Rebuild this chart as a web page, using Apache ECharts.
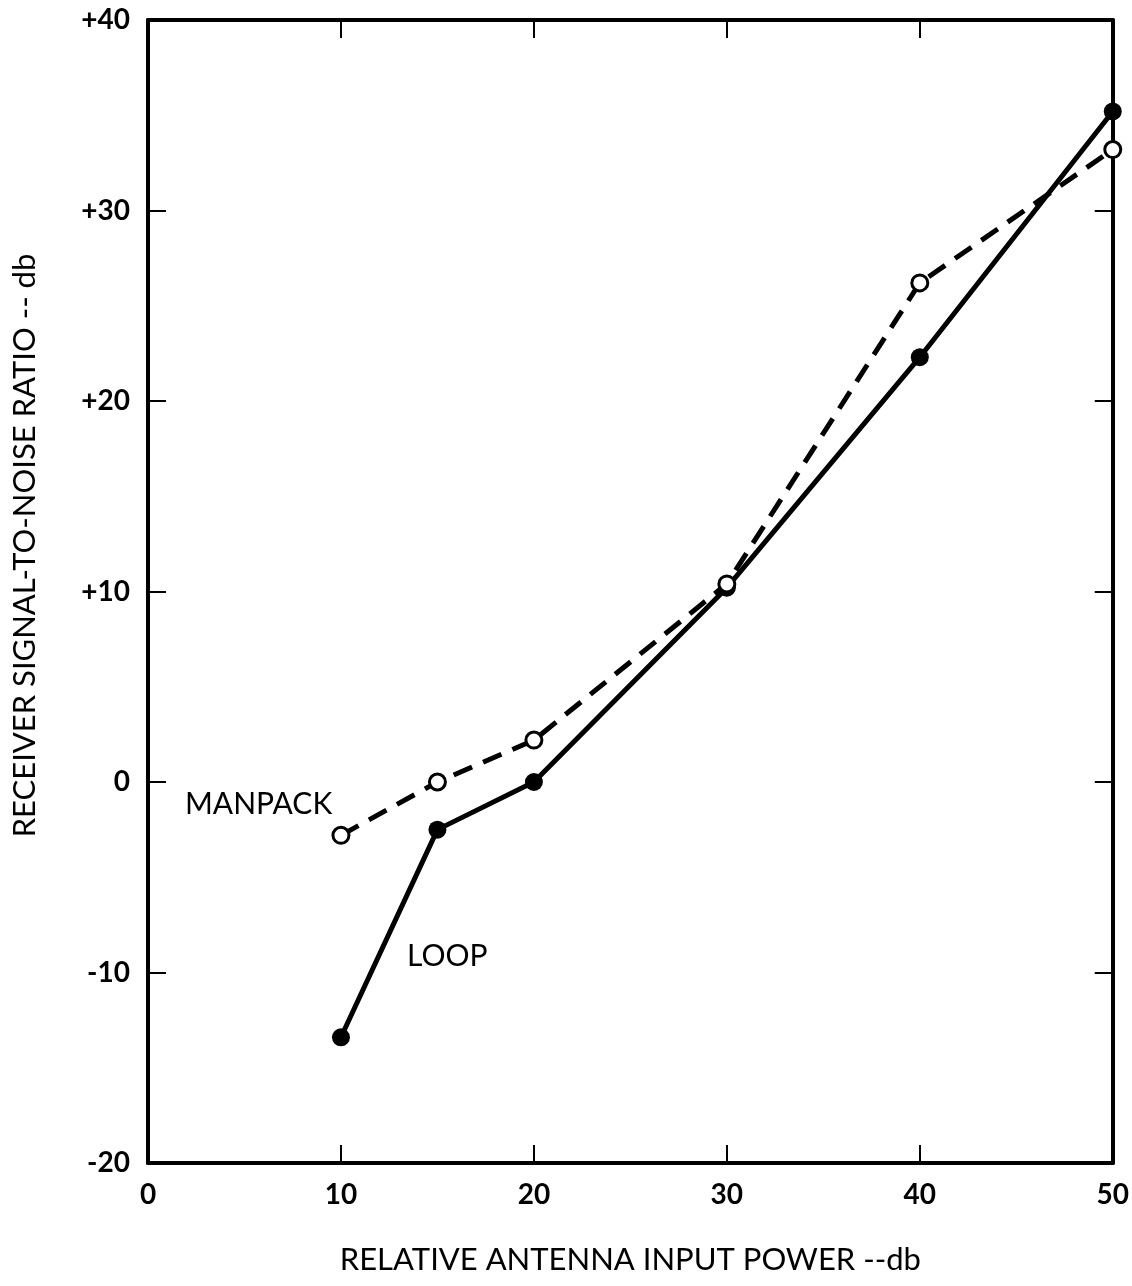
<!DOCTYPE html>
<html>
<head>
<meta charset="utf-8">
<script src="https://cdn.jsdelivr.net/npm/echarts@6/dist/echarts.min.js"></script>
<style>
  html, body { margin: 0; padding: 0; background: #fff; }
  #main { width: 1132px; height: 1286px; }
</style>
</head>
<body>
<div id="main"></div>
<script>
// relative antenna input power (db)
var inputPower = [10, 15, 20, 30, 40, 50];
// signal-to-noise ratio (db)
var loopSnr = [-13.4, -2.5, 0, 10.2, 22.3, 35.2];
var manpackSnr = [-2.8, 0, 2.2, 10.4, 26.2, 33.2];

var font = 'Lato, "DejaVu Sans", sans-serif';

function pairs(xs, ys) {
  return xs.map(function (x, i) { return [x, ys[i]]; });
}

var myChart = echarts.init(document.getElementById('main'));

var baseAxisLine = { show: true, onZero: false, lineStyle: { color: '#000', width: 4 } };
var baseTick = { show: true, inside: true, length: 18, lineStyle: { color: '#000', width: 2 } };

var option = {
  backgroundColor: '#fff',
  animation: false,
  grid: { left: 148, right: 15, top: 20, bottom: 123 },
  xAxis: [{
    type: 'value', min: 0, max: 50, interval: 10,
    position: 'bottom',
    axisLine: baseAxisLine, axisTick: baseTick,
    splitLine: { show: false },
    axisLabel: { color: '#000', fontSize: 28, fontFamily: font, fontWeight: 'bold', margin: 18 },
    name: 'RELATIVE ANTENNA INPUT POWER --db',
    nameLocation: 'middle', nameGap: 97,
    nameTextStyle: { color: '#000', fontSize: 31, fontFamily: font, verticalAlign: 'middle' }
  }, {
    type: 'value', min: 0, max: 50, interval: 10,
    position: 'top',
    axisLine: baseAxisLine, axisTick: baseTick,
    splitLine: { show: false }, axisLabel: { show: false }
  }],
  yAxis: [{
    type: 'value', min: -20, max: 40, interval: 10,
    position: 'left',
    axisLine: baseAxisLine, axisTick: baseTick,
    splitLine: { show: false },
    axisLabel: {
      color: '#000', fontSize: 28, fontFamily: font, fontWeight: 'bold', margin: 18,
      formatter: function (v) { return v > 0 ? '+' + v : String(v); }
    },
    name: 'RECEIVER SIGNAL-TO-NOISE RATIO -- db',
    nameLocation: 'middle', nameGap: 123, nameRotate: 90,
    nameTextStyle: { color: '#000', fontSize: 31, fontFamily: font, verticalAlign: 'middle', padding: [0, 0, 0, 92] }
  }, {
    type: 'value', min: -20, max: 40, interval: 10,
    position: 'right',
    axisLine: baseAxisLine, axisTick: baseTick,
    splitLine: { show: false }, axisLabel: { show: false }
  }],
  series: [{
    name: 'LOOP',
    type: 'line',
    data: pairs(inputPower, loopSnr),
    symbol: 'circle', symbolSize: 18,
    itemStyle: { color: '#000' },
    lineStyle: { color: '#000', width: 5 },
    z: 3
  }, {
    name: 'MANPACK',
    type: 'line',
    data: pairs(inputPower, manpackSnr),
    symbol: 'circle', symbolSize: 16,
    itemStyle: { color: '#fff', borderColor: '#000', borderWidth: 3 },
    lineStyle: { color: '#000', width: 5, type: [20, 12] },
    z: 4
  }],
  graphic: [{
    type: 'text', left: 185, top: 789,
    style: { text: 'MANPACK', font: '30px ' + font, fill: '#000' }
  }, {
    type: 'text', left: 407, top: 941,
    style: { text: 'LOOP', font: '30px ' + font, fill: '#000' }
  }]
};

myChart.setOption(option);
window.onresize = function () {
  myChart.resize();
};
</script>
</body>
</html>
